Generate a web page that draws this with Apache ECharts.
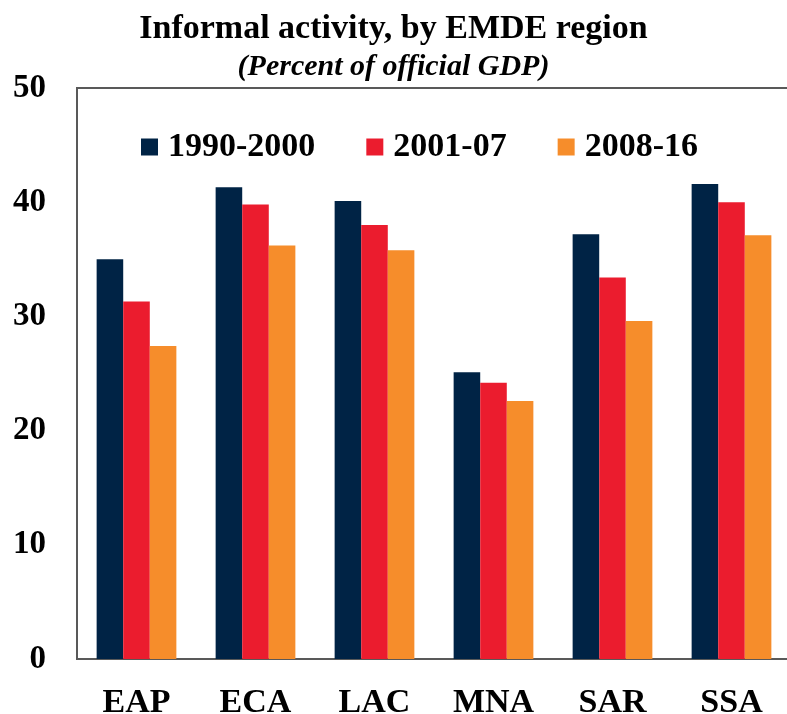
<!DOCTYPE html>
<html>
<head>
<meta charset="utf-8">
<script src="https://cdn.jsdelivr.net/npm/echarts@6/dist/echarts.min.js"></script>
<style>
  html, body { margin: 0; padding: 0; background: #fff; }
  #main { width: 787px; height: 714px; }
</style>
</head>
<body>
<div id="main"></div>
<script>
// regions on the x axis
var regions = ['EAP', 'ECA', 'LAC', 'MNA', 'SAR', 'SSA'];
// percent of official GDP
var p1990 = [35.0, 41.3, 40.1, 25.1, 37.2, 41.6];
var p2001 = [31.3, 39.8, 38.0, 24.2, 33.4, 40.0];
var p2008 = [27.4, 36.2, 35.8, 22.6, 29.6, 37.1];
var seriesNames = ['1990-2000', '2001-07', '2008-16'];
var yTicks = [0, 10, 20, 30, 40, 50];

var serif = '"Liberation Serif", "Times New Roman", serif';
var colors = ['#002345', '#EB1C2E', '#F68D2B'];

var myChart = echarts.init(document.getElementById('main'));

function bar(name, data, i) {
  return {
    name: name,
    type: 'bar',
    data: data,
    barGap: '0%',
    barCategoryGap: '33%',
    itemStyle: { color: colors[i] }
  };
}

var option = {
  backgroundColor: '#fff',
  animation: false,
  title: [{
    text: 'Informal activity, by EMDE region',
    left: 'center',
    top: 7,
    textStyle: { fontFamily: serif, fontSize: 34, fontWeight: 'bold', color: '#000' }
  }, {
    text: '(Percent of official GDP)',
    left: 'center',
    top: 47,
    textStyle: { fontFamily: serif, fontSize: 30, fontWeight: 'bold', fontStyle: 'italic', color: '#000' }
  }],
  legend: {
    data: seriesNames,
    left: 141,
    top: 130,
    padding: 0,
    icon: 'rect',
    itemWidth: 17,
    itemHeight: 17,
    itemGap: 51,
    textStyle: { fontFamily: serif, fontSize: 34, fontWeight: 'bold', color: '#000', padding: [0, 0, 0, 5] }
  },
  grid: {
    left: 77,
    top: 88,
    right: -4,
    bottom: 55,
    outerBoundsMode: 'none',
    show: true,
    borderColor: '#595959',
    borderWidth: 2,
    containLabel: false
  },
  xAxis: {
    type: 'category',
    data: regions,
    axisLine: { lineStyle: { color: '#595959', width: 2 } },
    axisTick: { show: false },
    axisLabel: { fontFamily: serif, fontSize: 34, fontWeight: 'bold', color: '#000', margin: 27 }
  },
  yAxis: {
    type: 'value',
    min: yTicks[0],
    max: yTicks[yTicks.length - 1],
    interval: 10,
    axisLine: { show: true, lineStyle: { color: '#595959', width: 2 } },
    axisTick: { show: false },
    splitLine: { show: false },
    axisLabel: { fontFamily: serif, fontSize: 33, fontWeight: 'bold', color: '#000', margin: 31 }
  },
  series: [
    bar(seriesNames[0], p1990, 0),
    bar(seriesNames[1], p2001, 1),
    bar(seriesNames[2], p2008, 2)
  ]
};

myChart.setOption(option);
</script>
</body>
</html>
